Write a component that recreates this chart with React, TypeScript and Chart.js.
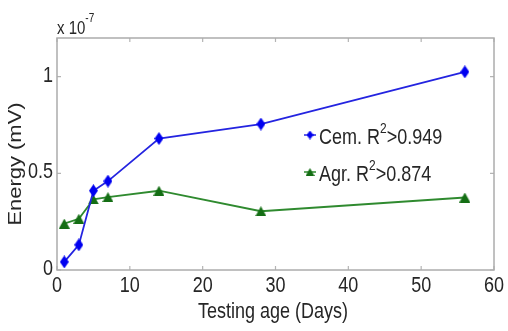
import React, { useEffect, useRef } from "react";
import { Chart, registerables } from "chart.js";

Chart.register(...registerables);

const days = [1, 3, 5, 7, 14, 28, 56];
const cemEnergy = [0.042, 0.13, 0.41, 0.46, 0.68, 0.755, 1.025];
const agrEnergy = [0.24, 0.265, 0.365, 0.377, 0.41, 0.304, 0.375];
const yTickValues = [0, 0.5, 1];
const seriesNames = ["Cem. R", "Agr. R"];
const seriesR2 = [">0.949", ">0.874"];
const xTitle = "Testing age (Days)";
const yTitle = "Energy (mV)";

const W = 508;
const H = 331;
const SY = 1.22;
const FONT = '"Liberation Sans", Arial, sans-serif';
const TEXT = "#262626";
const BLUE_LINE = "#2424e0";
const BLUE_MARK = "#0000f0";
const GREEN_LINE = "#2f8a2f";
const GREEN_MARK = "#146e14";

function makeDiamond(w: number, h: number, color: string) {
  const c = document.createElement("canvas");
  c.width = w;
  c.height = h;
  const ctx = c.getContext("2d")!;
  ctx.fillStyle = color;
  ctx.beginPath();
  ctx.moveTo(w / 2, 0);
  ctx.lineTo(w, h / 2);
  ctx.lineTo(w / 2, h);
  ctx.lineTo(0, h / 2);
  ctx.closePath();
  ctx.fill();
  return c;
}

function makeTriangle(w: number, h: number, color: string) {
  const c = document.createElement("canvas");
  c.width = w;
  c.height = h;
  const ctx = c.getContext("2d")!;
  ctx.fillStyle = color;
  ctx.beginPath();
  ctx.moveTo(w / 2, 0);
  ctx.lineTo(w, h);
  ctx.lineTo(0, h);
  ctx.closePath();
  ctx.fill();
  return c;
}

function txt(
  ctx: CanvasRenderingContext2D,
  s: string,
  x: number,
  y: number,
  size: number,
  align: CanvasTextAlign,
  rotate = false
) {
  ctx.save();
  ctx.translate(x, y);
  ctx.scale(1, SY);
  if (rotate) ctx.rotate(-Math.PI / 2);
  ctx.font = `${size}px ${FONT}`;
  ctx.textAlign = align;
  ctx.textBaseline = "middle";
  ctx.fillStyle = TEXT;
  ctx.fillText(s, 0, 0);
  ctx.restore();
}

function measure(ctx: CanvasRenderingContext2D, s: string, size: number) {
  ctx.save();
  ctx.font = `${size}px ${FONT}`;
  const w = ctx.measureText(s).width;
  ctx.restore();
  return w;
}

export default function App() {
  const ref = useRef<HTMLCanvasElement>(null);

  useEffect(() => {
    const canvas = ref.current!;
    const cemPt = makeDiamond(9, 13, BLUE_MARK);
    const agrPt = makeTriangle(11, 10, GREEN_MARK);
    const cemLeg = makeDiamond(7, 9, BLUE_MARK);
    const agrLeg = makeTriangle(9, 8, GREEN_MARK);

    const decor = {
      id: "decor",
      afterDraw(chart: any) {
        const ctx: CanvasRenderingContext2D = chart.ctx;
        const a = chart.chartArea;
        const xs = chart.scales.x;
        const ys = chart.scales.y;
        ctx.save();
        // ticks inward
        ctx.strokeStyle = "#b4b4b4";
        ctx.lineWidth = 1.2;
        ctx.beginPath();
        xs.ticks.forEach((t: any) => {
          const px = xs.getPixelForValue(t.value);
          ctx.moveTo(px, a.bottom);
          ctx.lineTo(px, a.bottom - 4);
          ctx.moveTo(px, a.top);
          ctx.lineTo(px, a.top + 4);
        });
        ys.ticks.forEach((t: any) => {
          const py = ys.getPixelForValue(t.value);
          ctx.moveTo(a.left, py);
          ctx.lineTo(a.left + 4, py);
          ctx.moveTo(a.right, py);
          ctx.lineTo(a.right - 4, py);
        });
        ctx.stroke();
        // box
        ctx.strokeStyle = "#acacac";
        ctx.lineWidth = 1.5;
        ctx.strokeRect(a.left, a.top, a.right - a.left, a.bottom - a.top);

        // tick labels
        xs.ticks.forEach((t: any) => {
          txt(ctx, String(t.value), xs.getPixelForValue(t.value), 286, 18, "center");
        });
        ys.ticks.forEach((t: any) => {
          txt(ctx, String(t.value), 53, ys.getPixelForValue(t.value) - 1, 18, "right");
        });

        // titles
        txt(ctx, xTitle, 273, 312, 18, "center");
        txt(ctx, yTitle, 16, 164, 18, "center", true);

        // exponent
        txt(ctx, "x 10", 57, 29, 15, "left");
        const ew = measure(ctx, "x 10", 15);
        txt(ctx, "-7", 57 + ew, 19, 10, "left");

        // legend
        const legend = [
          { y: 135, color: BLUE_LINE, img: cemLeg },
          { y: 172, color: GREEN_LINE, img: agrLeg },
        ];
        legend.forEach((it, i) => {
          ctx.strokeStyle = it.color;
          ctx.lineWidth = 1.5;
          ctx.beginPath();
          ctx.moveTo(304, it.y);
          ctx.lineTo(316, it.y);
          ctx.stroke();
          ctx.drawImage(it.img, 310 - it.img.width / 2, it.y - it.img.height / 2);
          const tx = 319;
          const ty = it.y + 3;
          txt(ctx, seriesNames[i], tx, ty, 18, "left");
          const w1 = measure(ctx, seriesNames[i], 18);
          txt(ctx, "2", tx + w1, ty - 9, 12, "left");
          const w2 = measure(ctx, "2", 12);
          txt(ctx, seriesR2[i], tx + w1 + w2, ty, 18, "left");
        });
        ctx.restore();
      },
    };

    const chart = new Chart(canvas, {
      type: "line",
      data: {
        datasets: [
          {
            label: "Cem.",
            data: days.map((d, i) => ({ x: d, y: cemEnergy[i] })),
            borderColor: BLUE_LINE,
            backgroundColor: BLUE_MARK,
            borderWidth: 1.8,
            pointStyle: cemPt as any,
            tension: 0,
            clip: false as any,
          },
          {
            label: "Agr.",
            data: days.map((d, i) => ({ x: d, y: agrEnergy[i] })),
            borderColor: GREEN_LINE,
            backgroundColor: GREEN_MARK,
            borderWidth: 1.8,
            pointStyle: agrPt as any,
            tension: 0,
            clip: false as any,
          },
        ],
      },
      options: {
        animation: false,
        responsive: false,
        devicePixelRatio: 1,
        layout: { padding: { top: 38, right: 14, left: 0, bottom: 0 } },
        plugins: { legend: { display: false }, tooltip: { enabled: false }, title: { display: false } },
        scales: {
          x: {
            type: "linear",
            min: 0,
            max: 60,
            ticks: { stepSize: 10, display: false },
            grid: { display: false, drawTicks: false },
            border: { display: false },
            afterFit: (s: any) => {
              s.height = 61;
            },
          },
          y: {
            type: "linear",
            min: 0,
            max: 1.2,
            ticks: { display: false },
            grid: { display: false, drawTicks: false },
            border: { display: false },
            afterBuildTicks: (s: any) => {
              s.ticks = yTickValues.map((v) => ({ value: v }));
            },
            afterFit: (s: any) => {
              s.width = 57;
            },
          },
        },
      },
      plugins: [decor],
    });
    return () => chart.destroy();
  }, []);

  return (
    <div style={{ position: "fixed", left: 0, top: 0, width: W, height: H, background: "#fff" }}>
      <canvas ref={ref} width={W} height={H} style={{ display: "block" }} />
    </div>
  );
}
